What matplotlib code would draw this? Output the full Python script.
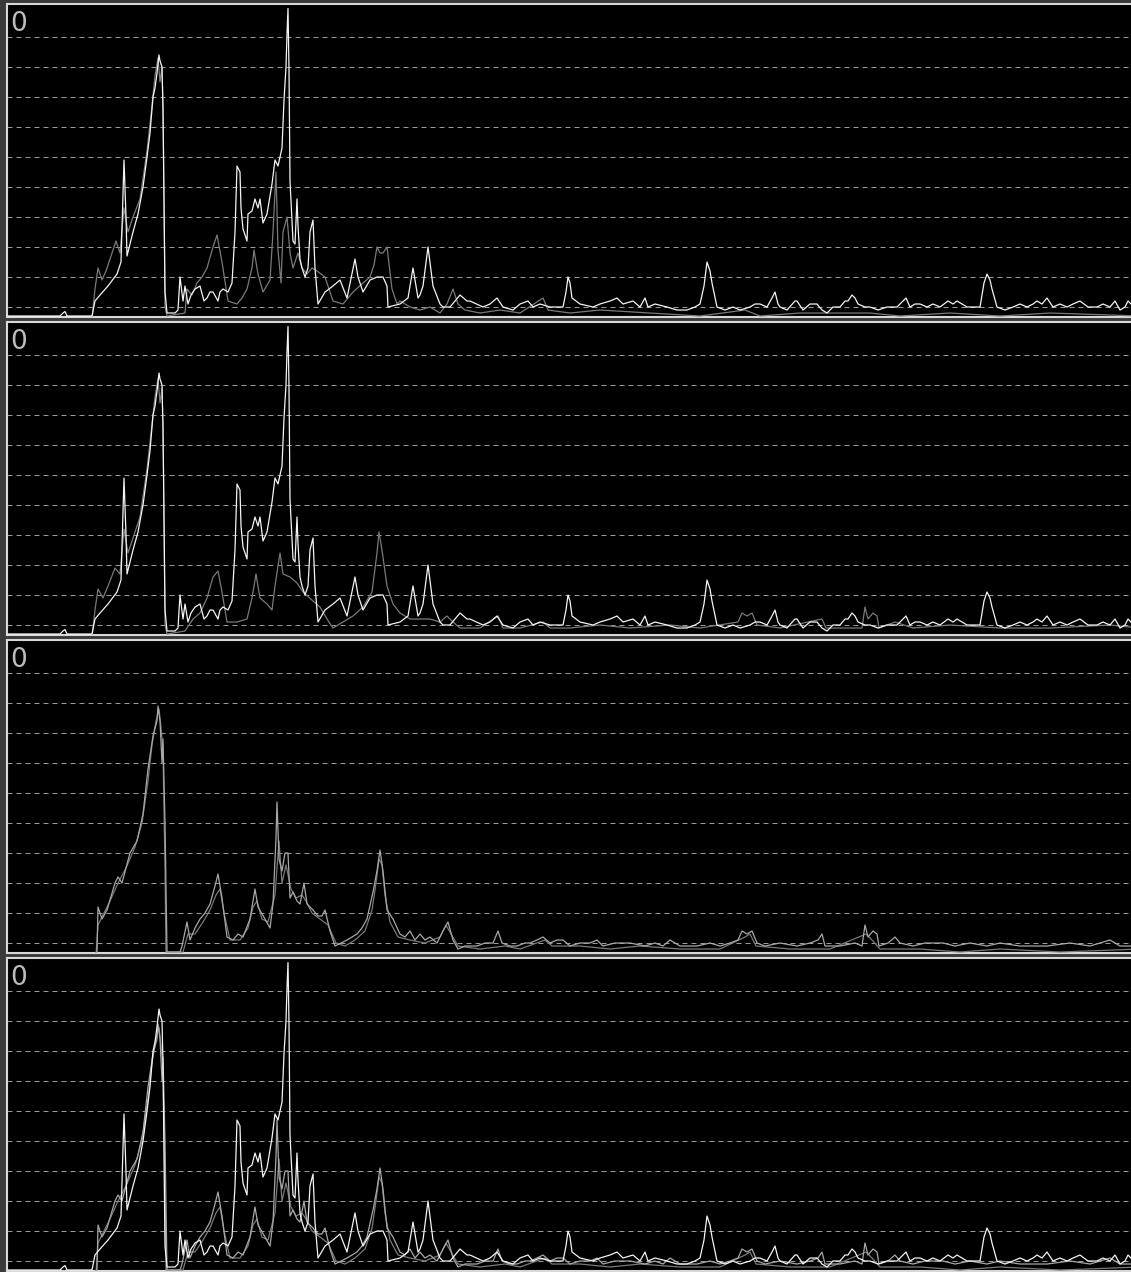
import matplotlib
matplotlib.use("Agg")
import matplotlib.pyplot as plt

# spectrum readings: bin position and level in dB (0 at top of each panel)
white_x = [8, 60, 63, 65, 67, 92, 95, 100, 108, 117, 121, 124, 126, 127, 130, 133, 138, 143, 147, 150,
           153, 155, 157, 159, 160, 162, 163, 164, 165, 167, 175, 178, 180, 183, 185, 188, 191, 195, 200, 204,
           207, 210, 213, 218, 220, 223, 228, 232, 235, 237, 240, 241, 243, 247, 248, 252, 255, 258, 260, 263,
           267, 272, 275, 278, 282, 284, 286, 287, 288, 289, 290, 293, 295, 297, 298, 300, 302, 305, 308, 310,
           313, 315, 318, 325, 333, 340, 347, 355, 358, 363, 370, 377, 383, 387, 388, 400, 408, 413, 418, 420,
           423, 428, 433, 440, 443, 450, 460, 467, 470, 483, 490, 497, 503, 513, 520, 528, 533, 540, 550, 563,
           566, 568, 570, 572, 580, 593, 600, 610, 617, 623, 633, 640, 645, 648, 655, 667, 677, 687, 695, 700,
           704, 707, 710, 712, 717, 725, 733, 740, 750, 755, 760, 767, 772, 775, 778, 780, 787, 795, 797, 803,
           810, 817, 822, 827, 833, 840, 845, 848, 852, 855, 858, 865, 870, 878, 887, 893, 897, 903, 906, 910,
           915, 920, 927, 933, 940, 948, 953, 957, 962, 967, 975, 980, 984, 987, 990, 992, 997, 1005, 1013, 1020,
           1027, 1033, 1037, 1042, 1047, 1053, 1060, 1067, 1073, 1080, 1088, 1097, 1103, 1110, 1115, 1120, 1125, 1128, 1131, 1140]
white_db = [-103, -103, -102, -101.5, -103, -103, -98, -96, -93, -89, -85, -51, -70, -83, -79, -75, -69, -60, -50, -42,
            -30, -27, -22, -16, -18, -20, -34, -64, -95, -102, -102, -101, -90, -98, -93, -99, -96, -94, -93, -98,
            -97, -95, -95, -98, -95, -94, -95, -92, -75, -53, -55, -67, -74, -78, -69, -68, -64, -67, -64, -72,
            -69, -59, -51, -53, -47, -31, -20, -9, -0.5, -21, -58, -78, -79, -64, -73, -84, -87, -90, -87, -75,
            -71, -87, -99, -95, -93, -91, -97, -84, -90, -95, -91, -90, -90, -93, -100, -99, -97, -87, -97, -96,
            -93, -80, -93, -99, -100, -100, -96, -98, -98, -100, -99, -97, -100, -101, -99, -98, -100, -99, -100, -100,
            -95, -90, -92, -97, -99, -100, -99, -98, -97, -99, -98, -100, -97, -100, -99, -100, -101, -101, -100, -99,
            -93, -85, -88, -92, -100, -101, -100, -101, -100, -99, -99, -100, -97, -95, -99, -100, -101, -98, -98, -101,
            -99, -99, -101, -102, -100, -100, -98, -98, -96, -97, -99, -100, -100, -101, -100, -100, -100, -98, -97, -100,
            -99, -99, -100, -99, -100, -98, -99, -98, -99, -100, -100, -100, -92, -89, -91, -94, -100, -101, -100, -99,
            -100, -99, -98, -99, -97, -100, -99, -100, -99, -98, -100, -100, -99, -100, -98, -101, -100, -98, -99, -99]

gray_a_x = [8, 92, 95, 98, 102, 106, 110, 116, 120, 124, 128, 133, 140, 147, 151, 155, 158, 160, 162, 163,
            164, 165, 167, 185, 187, 192, 197, 202, 207, 213, 217, 222, 228, 237, 242, 247, 252, 254, 258, 263,
            270, 273, 276, 278, 281, 283, 287, 290, 293, 298, 302, 307, 312, 317, 325, 333, 343, 353, 363, 370,
            374, 377, 380, 383, 387, 392, 397, 400, 410, 420, 430, 440, 447, 453, 458, 465, 480, 500, 520, 543,
            548, 570, 600, 650, 700, 745, 760, 800, 870, 900, 950, 1000, 1050, 1140]
gray_a_db = [-104, -104, -94, -87, -91, -88, -84, -78, -82, -67, -75, -70, -64, -48, -36, -23, -17, -25, -20, -34,
             -64, -100, -103, -102, -94, -96, -92, -90, -87, -80, -76, -85, -98, -99, -97, -94, -87, -81, -89, -95,
             -91, -75, -55, -81, -92, -75, -70, -82, -87, -82, -87, -89, -87, -88, -90, -98, -99, -95, -92, -90,
             -86, -80, -82, -82, -80, -94, -99, -98, -100, -101, -100, -102, -99, -94, -99, -101, -102, -101, -102, -97,
             -101, -102, -101, -102, -103, -101, -103, -102, -102, -103, -102, -103, -102, -103]

gray_b_x = [8, 92, 95, 98, 103, 108, 115, 120, 124, 128, 133, 140, 147, 151, 155, 158, 160, 162, 163, 164,
            165, 167, 185, 187, 193, 200, 207, 213, 218, 222, 227, 237, 247, 252, 256, 260, 267, 272, 275, 280,
            283, 290, 297, 303, 313, 320, 327, 333, 343, 353, 363, 372, 377, 379, 382, 387, 393, 400, 410, 420,
            430, 440, 447, 453, 460, 480, 498, 503, 520, 543, 550, 570, 600, 630, 670, 700, 738, 742, 747, 752,
            757, 780, 822, 826, 862, 865, 868, 873, 877, 879, 895, 913, 950, 1000, 1050, 1110, 1140]
gray_b_db = [-104, -104, -95, -88, -91, -87, -81, -83, -68, -76, -71, -64, -48, -36, -24, -18, -26, -21, -35, -64,
             -100, -103, -102, -101, -98, -96, -91, -84, -82, -89, -99, -99, -98, -91, -83, -91, -93, -95, -87, -76,
             -83, -84, -86, -89, -92, -94, -98, -101, -99, -97, -94, -89, -76, -69, -75, -87, -93, -96, -98, -98,
             -98, -99, -97, -99, -101, -101, -97, -101, -101, -99, -101, -101, -100, -101, -100, -101, -99, -96, -97, -96,
             -100, -101, -98, -101, -101, -94, -98, -96, -97, -101, -99, -101, -100, -101, -101, -100, -101]

gray_c1_x = [8, 95, 97, 98, 102, 107, 115, 118, 122, 130, 137, 143, 148, 153, 157, 158, 160, 162, 163, 165,
             167, 180, 182, 187, 190, 195, 200, 205, 210, 215, 218, 222, 227, 233, 238, 243, 250, 255, 258, 265,
             270, 273, 276, 277, 279, 282, 285, 288, 290, 293, 297, 300, 304, 307, 313, 318, 322, 325, 330, 335,
             341, 347, 352, 357, 362, 367, 373, 377, 380, 383, 387, 393, 400, 405, 410, 415, 420, 425, 430, 437,
             443, 448, 453, 458, 465, 477, 485, 493, 498, 502, 510, 517, 525, 530, 537, 543, 550, 557, 563, 570,
             580, 590, 597, 603, 615, 630, 645, 655, 663, 670, 680, 697, 710, 720, 730, 738, 742, 747, 752, 757,
             765, 780, 797, 810, 818, 822, 825, 840, 855, 862, 865, 868, 873, 877, 879, 888, 895, 900, 913, 925,
             943, 955, 970, 987, 1000, 1020, 1047, 1070, 1090, 1110, 1120, 1140]
gray_c1_db = [-104, -104, -103, -88, -92, -89, -80, -78, -80, -70, -66, -57, -42, -31, -26, -21, -26, -40, -32, -60,
              -103, -103, -101, -93, -99, -95, -92, -90, -87, -81, -77, -85, -98, -99, -97, -98, -92, -82, -88, -92,
              -95, -87, -65, -53, -72, -76, -70, -70, -85, -83, -86, -87, -80, -87, -89, -91, -91, -89, -96, -101,
              -100, -99, -98, -97, -95, -92, -83, -76, -69, -76, -89, -92, -97, -98, -96, -99, -97, -99, -98, -100,
              -96, -93, -99, -102, -101, -101, -100, -100, -96, -100, -101, -101, -100, -100, -99, -98, -100, -99, -99, -101,
              -100, -100, -99, -101, -100, -100, -101, -100, -101, -99, -101, -101, -100, -101, -100, -99, -96, -97, -96, -100,
              -101, -100, -101, -100, -99, -97, -101, -101, -100, -101, -94, -98, -96, -97, -101, -100, -98, -100, -101, -100,
              -100, -101, -100, -101, -100, -101, -101, -100, -101, -99, -101, -101]

gray_c2_x = [8, 96, 98, 104, 110, 118, 126, 135, 142, 148, 152, 156, 159, 161, 163, 165, 166, 183, 188, 195,
             203, 210, 216, 220, 224, 230, 240, 248, 253, 257, 262, 268, 275, 279, 282, 286, 291, 296, 302, 306,
             312, 320, 328, 336, 345, 355, 365, 372, 376, 379, 382, 385, 390, 398, 410, 425, 440, 446, 451, 458,
             480, 505, 520, 545, 552, 580, 610, 640, 680, 720, 745, 750, 756, 790, 830, 866, 872, 880, 920, 960,
             1000, 1060, 1140]
gray_c2_db = [-104, -104, -94, -90, -86, -80, -75, -68, -60, -46, -34, -26, -22, -28, -36, -75, -103, -103, -97, -97,
              -93, -89, -84, -82, -90, -99, -99, -95, -88, -86, -92, -93, -84, -66, -80, -74, -82, -85, -84, -86,
              -90, -92, -94, -100, -101, -99, -96, -89, -80, -72, -74, -84, -93, -98, -99, -100, -98, -94, -97, -101,
              -102, -101, -102, -99, -101, -101, -102, -101, -102, -102, -98, -97, -101, -102, -102, -97, -99, -102, -102, -103,
              -102, -103, -102]

grid_levels = [-10, -20, -30, -40, -50, -60, -70, -80, -90, -100]

WHITE = "#f4f4f4"
GRAY = "#7a7a7a"
LIGHT_GRAY = "#a8a8a8"

# panel contents: list of (x, y, colour) for each of the four strips
panels = [
    [(gray_a_x, gray_a_db, GRAY), (white_x, white_db, WHITE)],
    [(gray_b_x, gray_b_db, GRAY), (white_x, white_db, WHITE)],
    [(gray_c2_x, gray_c2_db, GRAY), (gray_c1_x, gray_c1_db, LIGHT_GRAY)],
    [(gray_c2_x, gray_c2_db, GRAY), (gray_c1_x, gray_c1_db, LIGHT_GRAY), (white_x, white_db, WHITE)],
]

W, H = 1131, 1272
fig = plt.figure(figsize=(W / 100, H / 100), dpi=100)
fig.patch.set_facecolor("#3a3a3a")

for k, series in enumerate(panels):
    top = 4 + 318 * k
    bot = 317 + 318 * k
    left, right = 7, 1140
    ax = fig.add_axes([left / W, 1 - bot / H, (right - left) / W, (bot - top) / H])
    ax.set_facecolor("black")
    ax.set_xlim(left, right)
    ax.set_ylim(-103.33, 1)
    for lv in grid_levels:
        ax.axhline(lv, color="#9a9a9a", lw=0.72, linestyle=(0, (5, 4)), zorder=1)
    for x, y, c in series:
        ax.plot(x, y, color=c, lw=0.9, zorder=3)
    ax.text(10, -1.2, "0", color="#bdbdbd", fontsize=19, va="top", ha="left", zorder=4)
    ax.set_xticks([])
    ax.set_yticks([])
    for side, sp in ax.spines.items():
        sp.set_color("#d8d8d8")
        sp.set_linewidth(1.5)

fig.savefig("out.png", dpi=100, facecolor=fig.get_facecolor())
